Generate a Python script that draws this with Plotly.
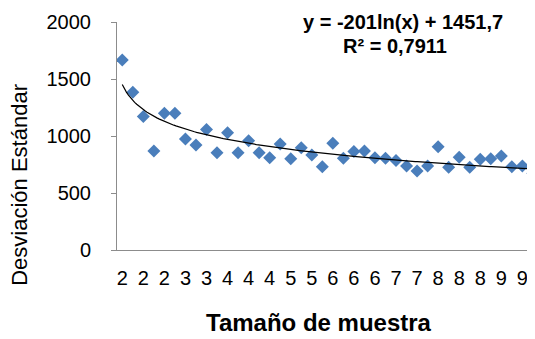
import numpy as np
import plotly.graph_objects as go

# Data (point index 1..40)
point_index = list(range(1, 41))
desviacion = [1667, 1383, 1170, 868, 1199, 1199, 974, 921, 1058, 854,
              1029, 854, 959, 854, 810, 930, 801, 898, 833, 731,
              936, 804, 863, 868, 810, 804, 784, 737, 693, 737,
              906, 725, 813, 725, 795, 801, 825, 731, 737, 673]
tick_positions = list(range(1, 41, 2))
tick_labels = ["2", "2", "2", "3", "3", "4", "4", "4", "5", "5",
               "6", "6", "6", "7", "7", "8", "8", "8", "9", "9"]

# Logarithmic trendline as printed on the chart
trend_a = -201.0
trend_b = 1451.7
trend_x = np.linspace(1, 40, 200)
trend_y = trend_a * np.log(trend_x) + trend_b

FONT = "Liberation Sans, Arial, sans-serif"

fig = go.Figure()
fig.add_trace(go.Scatter(
    x=point_index, y=desviacion, mode="markers",
    marker=dict(symbol="diamond", size=10, color="#4a7ebb",
                line=dict(width=0)),
    showlegend=False,
))
fig.add_trace(go.Scatter(
    x=trend_x, y=trend_y, mode="lines",
    line=dict(color="#000000", width=1.2),
    showlegend=False, hoverinfo="skip",
))

# the page body adds an 8px offset, so the figure is sized to fit the window
fig.update_layout(
    width=527, height=331,
    margin=dict(l=109, r=0, t=14, b=89, autoexpand=False),
    plot_bgcolor="white", paper_bgcolor="white",
    font=dict(family=FONT, color="#000000"),
    xaxis=dict(
        range=[0.5, 40.2], showgrid=False, zeroline=False, automargin=False,
        showline=True, linecolor="#8c8c8c", linewidth=1,
        tickmode="array", tickvals=tick_positions, ticktext=tick_labels,
        ticks="", tickfont=dict(size=20, family=FONT),
        ticklabelstandoff=10,
    ),
    yaxis=dict(
        range=[0, 2000], showgrid=False, zeroline=False, automargin=False,
        showline=True, linecolor="#8c8c8c", linewidth=1,
        tickvals=[0, 500, 1000, 1500, 2000],
        ticks="outside", ticklen=5, tickcolor="#8c8c8c",
        tickfont=dict(size=20, family=FONT),
        ticklabelstandoff=16,
    ),
    annotations=[
        dict(text="Desviación Estándar", xref="paper", yref="paper",
             x=-0.235, y=0.285, textangle=-90, showarrow=False,
             xanchor="center", yanchor="middle",
             font=dict(size=22, family=FONT)),
        dict(text="<b>Tamaño de muestra</b>", xref="paper", yref="paper",
             x=0.483, y=-0.316, showarrow=False,
             xanchor="center", yanchor="middle",
             font=dict(size=24, family=FONT)),
        dict(text="<b>y = -201ln(x) + 1451,7</b>", xref="paper", yref="paper",
             x=0.684, y=1.0, showarrow=False,
             xanchor="center", yanchor="middle",
             font=dict(size=20, family=FONT)),
        dict(text="<b>R² = 0,7911</b>", xref="paper", yref="paper",
             x=0.665, y=0.895, showarrow=False,
             xanchor="center", yanchor="middle",
             font=dict(size=20, family=FONT)),
    ],
)

fig.write_html("out.html")
